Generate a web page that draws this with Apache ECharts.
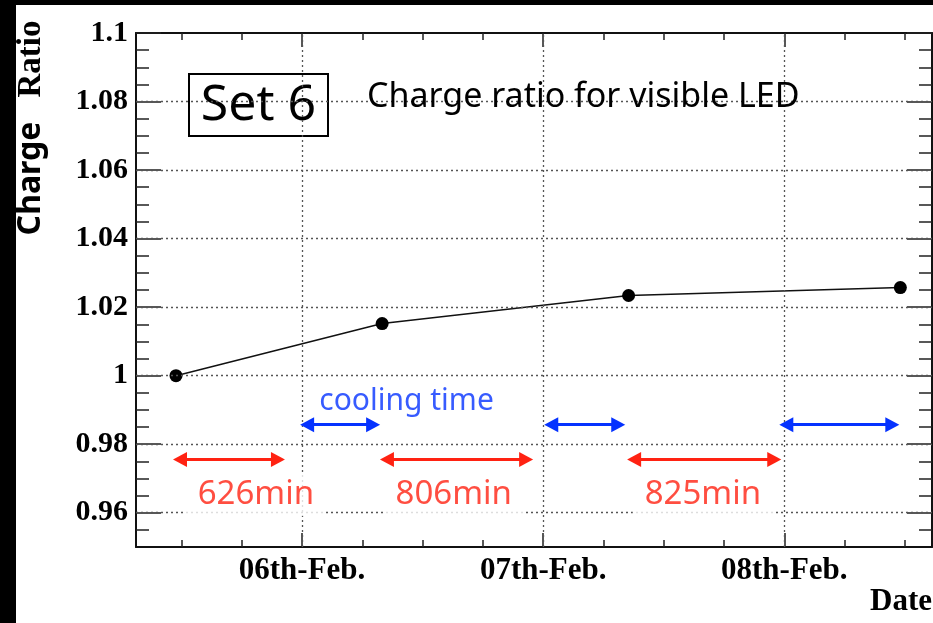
<!DOCTYPE html>
<html>
<head>
<meta charset="utf-8">
<script src="https://cdn.jsdelivr.net/npm/echarts@6/dist/echarts.min.js"></script>
<style>
  html, body { margin: 0; padding: 0; background: #fff; }
  #chart { width: 933px; height: 623px; }
</style>
</head>
<body>
<div id="chart"></div>
<script>
// x values are hours counted from 05 Feb 00:00
const dayTicks = [24, 48, 72]
const dayLabels = ['06th-Feb.', '07th-Feb.', '08th-Feb.']
const ratioTicks = [0.96, 0.98, 1, 1.02, 1.04, 1.06, 1.08, 1.1]
const ratioLabels = ['0.96', '0.98', '1', '1.02', '1.04', '1.06', '1.08', '1.1']

// measurements
const measureHours = [11.45, 31.97, 56.5, 83.55]
const chargeRatio = [1.0, 1.0152, 1.0234, 1.0257]

// red arrows: time between measurement and next cooling start (shaft ends)
const intervalStart = [11.85, 32.45, 57.05]
const intervalEnd = [21.6, 46.3, 71.0]
const intervalLevel = 0.9755
const intervalText = ['626min', '806min', '825min']
const intervalTextX = [19.4, 39.1, 63.9]
const intervalTextY = 0.9653

// blue arrows: cooling time (shaft ends)
const coolingStart = [24.5, 48.8, 72.2]
const coolingEnd = [31.07, 55.47, 82.75]
const coolingLevel = 0.9857
const coolingText = 'cooling time'
const coolingTextPos = [34.4, 0.9924]

const xMin = 7.47
const xMax = 86.7
const yMin = 0.95
const yMax = 1.1

const serif = '"Liberation Serif", "Times New Roman", serif'
const sans = '"Noto Sans", "Liberation Sans", sans-serif'
const red = '#ff2212'
const blue = '#0532ff'

let xMinor = []
for (let h = 12; h <= 84; h += 6) xMinor.push(h)
let yMinor = []
for (let i = 1; i < 30; i++) yMinor.push(+(yMin + i * 0.005).toFixed(3))

function xAxisOf(pos, major, withLabel) {
  return {
    type: 'value',
    position: pos,
    min: xMin,
    max: xMax,
    axisLine: { show: major, onZero: false, lineStyle: { color: '#111', width: 2 } },
    axisTick: {
      inside: true,
      length: major ? 14 : 7,
      customValues: major ? dayTicks : xMinor,
      lineStyle: { color: '#222', width: 1.5 }
    },
    axisLabel: {
      show: withLabel,
      customValues: dayTicks,
      margin: 8,
      formatter: function (v) {
        let i = dayTicks.indexOf(v)
        return i >= 0 ? dayLabels[i] : ''
      },
      color: '#000',
      fontFamily: serif,
      fontWeight: 'bold',
      fontSize: 31
    },
    splitLine: { show: false }
  }
}

function yAxisOf(pos, major, withLabel) {
  return {
    type: 'value',
    position: pos,
    min: yMin,
    max: yMax,
    axisLine: { show: major, onZero: false, lineStyle: { color: '#111', width: 2 } },
    axisTick: {
      inside: true,
      length: major ? 25 : 13,
      customValues: major ? ratioTicks : yMinor,
      lineStyle: { color: '#222', width: 1.5 }
    },
    axisLabel: {
      show: withLabel,
      customValues: ratioTicks,
      margin: 8,
      formatter: function (v) {
        let i = ratioTicks.findIndex(t => Math.abs(t - v) < 1e-6)
        return i >= 0 ? ratioLabels[i] : ''
      },
      color: '#000',
      fontFamily: serif,
      fontWeight: 'bold',
      fontSize: 30
    },
    splitLine: { show: false }
  }
}

const chart = echarts.init(document.getElementById('chart'))

const gridLines = []
dayTicks.forEach(d => gridLines.push({ xAxis: d }))
ratioTicks.slice(0, -1).forEach(r => gridLines.push({ yAxis: r }))

function arrowPairs(starts, ends, level) {
  return starts.map((s, i) => [{ coord: [s, level] }, { coord: [ends[i], level] }])
}

function annotationSeries(names, xs, ys, label) {
  return {
    type: 'scatter',
    z: 5,
    silent: true,
    symbolSize: 1,
    itemStyle: { color: 'rgba(0,0,0,0)' },
    data: names.map((t, i) => ({ name: t, value: [xs[i], ys[i]] })),
    label: Object.assign({ show: true, position: 'inside', formatter: '{b}', fontFamily: sans }, label)
  }
}

chart.setOption({
  backgroundColor: '#fff',
  animation: false,
  grid: { left: 136, top: 33, right: 1, bottom: 76, containLabel: false },
  xAxis: [
    xAxisOf('bottom', true, true),
    xAxisOf('bottom', false, false),
    xAxisOf('top', true, false),
    xAxisOf('top', false, false)
  ],
  yAxis: [
    yAxisOf('left', true, true),
    yAxisOf('left', false, false),
    yAxisOf('right', true, false),
    yAxisOf('right', false, false)
  ],
  graphic: [
    { type: 'rect', left: 0, top: 0, shape: { width: 16, height: 623 }, style: { fill: '#000' }, z: 200 },
    { type: 'rect', left: 0, top: 0, shape: { width: 933, height: 5 }, style: { fill: '#000' }, z: 200 },
    {
      type: 'text',
      x: 31,
      y: 128,
      rotation: Math.PI / 2,
      z: 100,
      style: {
        text: '{a|Charge}{s| }{b|Ratio}',
        align: 'center',
        verticalAlign: 'middle',
        rich: {
          a: { fontFamily: sans, fontWeight: 'bold', fontSize: 32, fill: '#000' },
          s: { fontSize: 32, width: 24 },
          b: { fontFamily: serif, fontWeight: 'bold', fontSize: 33, fill: '#000' }
        }
      }
    },
    {
      type: 'text',
      right: 1,
      top: 586,
      z: 100,
      style: { text: 'Date', fontFamily: serif, fontWeight: 'bold', fontSize: 31, fill: '#000' }
    },
    {
      type: 'group',
      left: 188,
      top: 73,
      z: 100,
      children: [
        { type: 'rect', shape: { x: 0, y: 0, width: 139, height: 62 }, style: { fill: '#fff', stroke: '#000', lineWidth: 2 } },
        {
          type: 'text',
          x: 69.5,
          y: 32,
          style: { text: 'Set 6', align: 'center', verticalAlign: 'middle', fontFamily: sans, fontSize: 50, fill: '#000' }
        }
      ]
    },
    {
      type: 'text',
      left: 367,
      top: 80,
      z: 100,
      style: { text: 'Charge ratio for visible LED', fontFamily: sans, fontSize: 34, fill: '#000' }
    }
  ],
  series: [
    {
      // dotted grid
      type: 'line',
      data: [],
      z: 1,
      silent: true,
      markLine: {
        silent: true,
        symbol: 'none',
        label: { show: false },
        lineStyle: { color: '#555', width: 1.3, type: [2, 3] },
        data: gridLines
      }
    },
    {
      type: 'line',
      data: [],
      z: 3,
      silent: true,
      markLine: {
        silent: true,
        symbol: ['triangle', 'triangle'],
        symbolSize: [15, 14],
        label: { show: false },
        lineStyle: { color: red, width: 3, type: 'solid' },
        data: arrowPairs(intervalStart, intervalEnd, intervalLevel)
      }
    },
    {
      type: 'line',
      data: [],
      z: 3,
      silent: true,
      markLine: {
        silent: true,
        symbol: ['triangle', 'triangle'],
        symbolSize: [15, 14],
        label: { show: false },
        lineStyle: { color: blue, width: 3, type: 'solid' },
        data: arrowPairs(coolingStart, coolingEnd, coolingLevel)
      }
    },
    {
      type: 'line',
      z: 4,
      data: measureHours.map((h, i) => [h, chargeRatio[i]]),
      symbol: 'circle',
      symbolSize: 13,
      itemStyle: { color: '#000' },
      lineStyle: { color: '#111', width: 1.5 }
    },
    annotationSeries(intervalText, intervalTextX, intervalText.map(() => intervalTextY), {
      color: red,
      fontSize: 33,
      backgroundColor: '#fff',
      padding: [5, 12]
    }),
    annotationSeries([coolingText], [coolingTextPos[0]], [coolingTextPos[1]], {
      color: blue,
      fontSize: 30
    })
  ]
})
</script>
</body>
</html>
